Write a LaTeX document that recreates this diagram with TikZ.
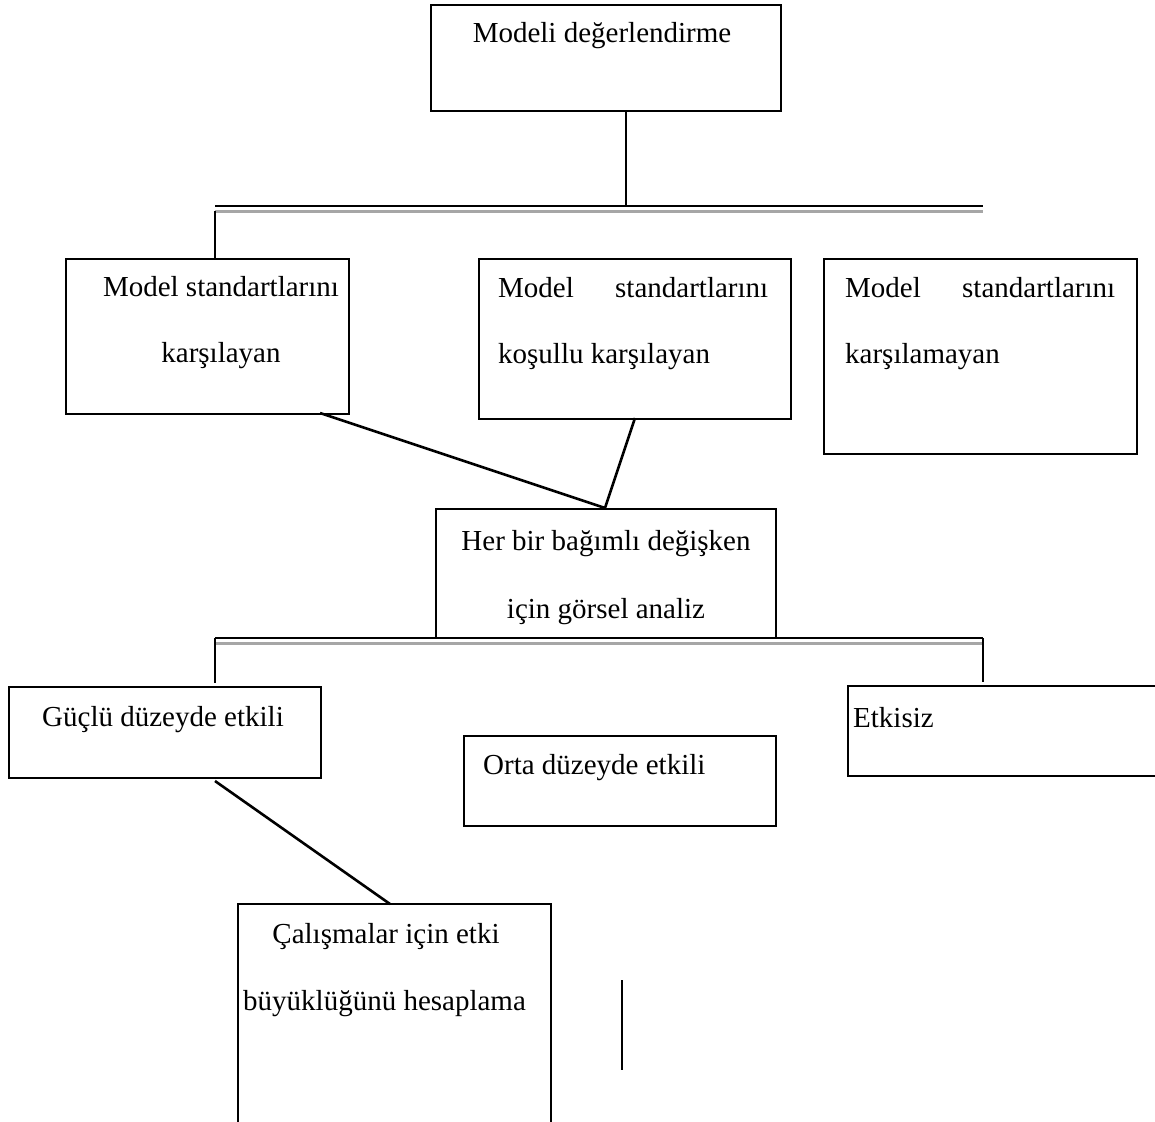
\documentclass[tikz,border=0pt]{standalone}
\usepackage{fontspec}
\setmainfont{Liberation Serif}
\begin{document}
\begin{tikzpicture}[x=1pt,y=-1pt,
  box/.style={draw,line width=2pt,anchor=north west,inner sep=0pt},
  txt/.style={inner sep=0pt,font=\fontsize{29}{35}\selectfont},
  conn/.style={line width=2.6pt},
  grayline/.style={line width=3pt,color=black!35}]
\useasboundingbox (0,0) rectangle (1155,1121);
\fill[white] (0,0) rectangle (1155,1121);
% boxes
\node[box,minimum width=350pt,minimum height=106pt] (b0) at (430,4) {};
\node[box,minimum width=283pt,minimum height=155pt] (b1) at (65,258) {};
\node[box,minimum width=312pt,minimum height=160pt] (b2) at (478,258) {};
\node[box,minimum width=313pt,minimum height=195pt] (b3) at (823,258) {};
\node[box,minimum width=340pt,minimum height=129pt] (b4) at (435,508) {};
\node[box,minimum width=312pt,minimum height=91pt] (b5) at (8,686) {};
\node[box,minimum width=312pt,minimum height=90pt] (b6) at (463,735) {};
\node[box,minimum width=310pt,minimum height=90pt] (b7) at (847,685) {};
\coordinate (b8bl) at (238,1125);
\coordinate (b8tl) at (238,904);
\coordinate (b8tr) at (551,904);
\coordinate (b8br) at (551,1125);
\draw[line width=2pt] (b8bl) -- (b8tl) -- (b8tr) -- (b8br);
% texts
\node[txt,anchor=base] (t0) at (602,43) {Modeli değerlendirme};
\node[txt,anchor=base] (t1a) at (221,296) {Model standartlarını};
\node[txt,anchor=base] (t1b) at (221,362) {karşılayan};
\node[txt,anchor=base west,text width=270pt,align=left] (t2a) at (498,297) {Model\hfill standartlarını};
\node[txt,anchor=base west] (t2b) at (498,363) {koşullu karşılayan};
\node[txt,anchor=base west,text width=270pt,align=left] (t3a) at (845,297) {Model\hfill standartlarını};
\node[txt,anchor=base west] (t3b) at (845,363) {karşılamayan};
\node[txt,anchor=base] (t4a) at (606,550) {Her bir bağımlı değişken};
\node[txt,anchor=base] (t4b) at (606,618) {için görsel analiz};
\node[txt,anchor=base west] (t5) at (42,726) {Güçlü düzeyde etkili};
\node[txt,anchor=base west] (t6) at (483,774) {Orta düzeyde etkili};
\node[txt,anchor=base west] (t7) at (853,727) {Etkisiz};
\node[txt,anchor=base] (t8a) at (386,943) {Çalışmalar için etki};
\node[txt,anchor=base west] (t8b) at (243,1010) {büyüklüğünü hesaplama};
% connectors
\coordinate (h1l) at (215,206);
\coordinate (h1r) at (983,206);
\coordinate (h1m) at (626,206);
\draw[grayline] (215,211) -- (983,211);
\draw[conn] (h1l) -- (h1r);
\draw[conn] (b0.south -| h1m) -- (h1m);
\draw[conn] (215,211) -- (b1.north -| h1l);
\coordinate (j4) at (605,508);
\draw[conn] (320,413) -- (j4);
\draw[conn] (635,418) -- (j4);
\coordinate (h2l) at (215,638);
\coordinate (h2r) at (983,638);
\draw[grayline] (215,643) -- (983,643);
\draw[conn] (h2l) -- (h2r);
\draw[conn] (h2l) -- (215,683);
\draw[conn] (h2r) -- (983,682);
\draw[conn] (215,781) -- (b8tl -| 390,0);
\coordinate (v1) at (622,980);
\coordinate (v2) at (622,1070);
\draw[conn] (v1) -- (v2);
\end{tikzpicture}
\end{document}
